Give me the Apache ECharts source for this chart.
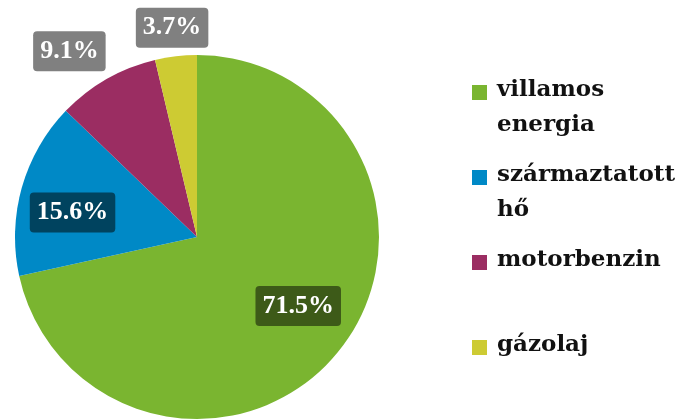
<!DOCTYPE html>
<html>
<head>
<meta charset="utf-8">
<script src="https://cdn.jsdelivr.net/npm/echarts@6/dist/echarts.min.js"></script>
<style>html,body{margin:0;padding:0;background:#fff;}#c{width:689px;height:419px;}</style>
</head>
<body>
<div id="c"></div>
<script>
const categories = ['villamos energia', 'származtatott hő', 'motorbenzin', 'gázolaj'];
const legendLines = ['villamos\nenergia', 'származtatott\nhő', 'motorbenzin', 'gázolaj'];
const values = [71.5, 15.6, 9.1, 3.7];
const colors = ['#7AB530', '#0089C6', '#9B2D62', '#CDCB33'];
const labelBg = ['#3D5A18', '#00435F', '#808080', '#808080'];
const labelOffsets = [[28, 10], [-34, 1], [-81, -104], [-14, -116]];
const legendTops = [73, 158, 243, 328];

const serif = '"DejaVu Serif", serif';
const labelFont = '"Liberation Serif", serif';

const iconTwo = 'path://M0,0L0.01,0M0,12L15,12L15,27L0,27ZM20,70L19.99,70';
const iconOne = 'path://M0,0L0.01,0M0,12L15,12L15,27L0,27ZM20,35L19.99,35';

const legends = categories.map((name, i) => {
  const two = legendLines[i].indexOf('\n') >= 0;
  return {
    left: 472,
    top: legendTops[i],
    padding: 0,
    orient: 'vertical',
    itemWidth: 20,
    itemHeight: two ? 70 : 35,
    itemGap: 0,
    selectedMode: false,
    icon: two ? iconTwo : iconOne,
    itemStyle: { borderWidth: 0 },
    textStyle: {
      fontFamily: serif, fontWeight: 'bold', fontSize: 23, color: '#111', lineHeight: 35
    },
    formatter: () => legendLines[i],
    data: [{ name: name, icon: two ? iconTwo : iconOne }]
  };
});

const chart = echarts.init(document.getElementById('c'), null, { renderer: 'canvas' });
chart.setOption({
  animation: false,
  backgroundColor: '#fff',
  legend: legends,
  series: [{
    type: 'pie',
    center: [197, 237],
    radius: 182,
    startAngle: 90,
    clockwise: true,
    avoidLabelOverlap: false,
    itemStyle: { borderWidth: 0 },
    emphasis: { disabled: true },
    labelLine: { show: false },
    label: {
      show: true,
      position: 'inside',
      fontFamily: labelFont,
      fontWeight: 'bold',
      fontSize: 26,
      lineHeight: 27,
      color: '#fff',
      padding: [7, 7, 6, 7],
      borderRadius: 4,
      formatter: p => p.value.toFixed(1) + '%'
    },
    data: categories.map((name, i) => ({
      name: name,
      value: values[i],
      itemStyle: { color: colors[i] },
      label: { backgroundColor: labelBg[i], offset: labelOffsets[i] }
    }))
  }]
});
</script>
</body>
</html>
